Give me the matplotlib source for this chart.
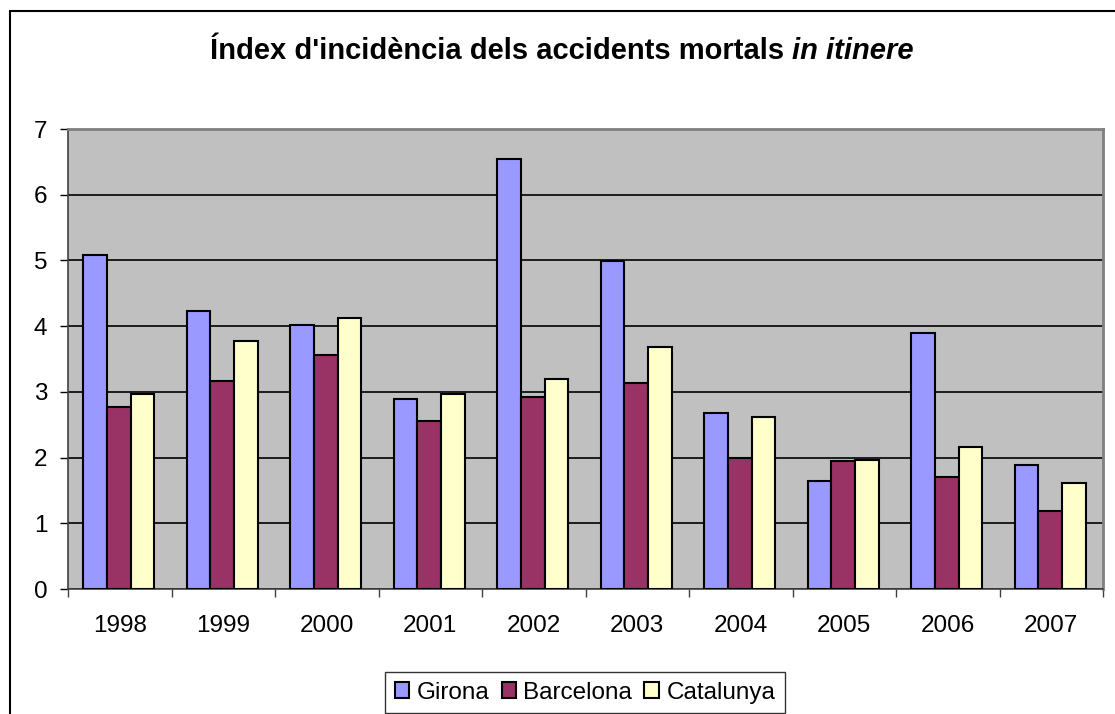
import numpy as np
import matplotlib
matplotlib.use('Agg')
import matplotlib.pyplot as plt
from matplotlib.patches import Rectangle

plt.rcParams['font.family'] = ['Liberation Sans', 'DejaVu Sans']

# Dades
anys = ['1998', '1999', '2000', '2001', '2002', '2003', '2004', '2005', '2006', '2007']
girona = [5.08, 4.23, 4.01, 2.89, 6.54, 4.99, 2.68, 1.64, 3.90, 1.89]
barcelona = [2.77, 3.17, 3.56, 2.55, 2.92, 3.13, 2.00, 1.95, 1.70, 1.19]
catalunya = [2.97, 3.77, 4.13, 2.97, 3.20, 3.68, 2.62, 1.97, 2.16, 1.61]

series = ['Girona', 'Barcelona', 'Catalunya']
colors = ['#9999FF', '#993366', '#FFFFCC']

fig = plt.figure(figsize=(11.15, 7.14), dpi=100)
ax = fig.add_axes([68 / 1115, 125 / 714, 1035 / 1115, 460 / 714])
ax.set_facecolor('#C0C0C0')

x = np.arange(len(anys))
w = 0.23
for i, (vals, name) in enumerate(zip([girona, barcelona, catalunya], series)):
    ax.bar(x + (i - 1) * w - 0.01, vals, width=w, color=colors[i], edgecolor='black',
           linewidth=1.5, label=name, zorder=3)

ax.set_xlim(-0.5, len(anys) - 0.5)
ax.set_ylim(0, 7)
ax.set_yticks(range(0, 8))
ax.yaxis.grid(True, color='black', linewidth=1.2, zorder=1)
ax.set_axisbelow(True)

ax.set_xticks(x)
ax.set_xticklabels(anys)
ax.set_xticks(np.arange(-0.5, len(anys)), minor=True)
ax.tick_params(axis='x', which='major', length=0, pad=19, labelsize=17.5)
ax.tick_params(axis='x', which='minor', length=6, width=1, color='#404040', direction='out')
ax.tick_params(axis='y', length=6, width=1, pad=9, labelsize=17.5, direction='out')

for s in ['top', 'right']:
    ax.spines[s].set_color('#808080')
    ax.spines[s].set_linewidth(2)
for s in ['left', 'bottom']:
    ax.spines[s].set_color('#404040')
    ax.spines[s].set_linewidth(1.2)

# Títol en dues parts (negreta + cursiva)
t1 = fig.text(0, 1 - 59 / 714, "Índex d'incidència dels accidents mortals ", fontsize=21,
              fontweight='bold', ha='left', va='baseline')
t2 = fig.text(0, 1 - 59 / 714, "in itinere", fontsize=21, fontweight='bold',
              fontstyle='italic', ha='left', va='baseline')
fig.canvas.draw()
r = fig.canvas.get_renderer()
w1 = t1.get_window_extent(r).width
w2 = t2.get_window_extent(r).width
x0 = 562 - (w1 + w2) / 2
t1.set_x(x0 / 1115)
t2.set_x((x0 + w1) / 1115)

# Marc exterior
fig.patches.append(Rectangle((10 / 1115, -0.05), 1.2, 1 - 11 / 714 + 0.05,
                             transform=fig.transFigure, fill=False,
                             edgecolor='black', linewidth=1.5))

leg = fig.legend(loc='upper center', bbox_to_anchor=(585 / 1115, 1 - 672 / 714), ncol=3,
                 fontsize=17.5, frameon=True, fancybox=False, edgecolor='black',
                 handlelength=0.6, handleheight=0.6, handletextpad=0.3,
                 columnspacing=0.5, borderpad=0.4, borderaxespad=0)
leg.get_frame().set_linewidth(1)

fig.savefig('out.png', dpi=100)
